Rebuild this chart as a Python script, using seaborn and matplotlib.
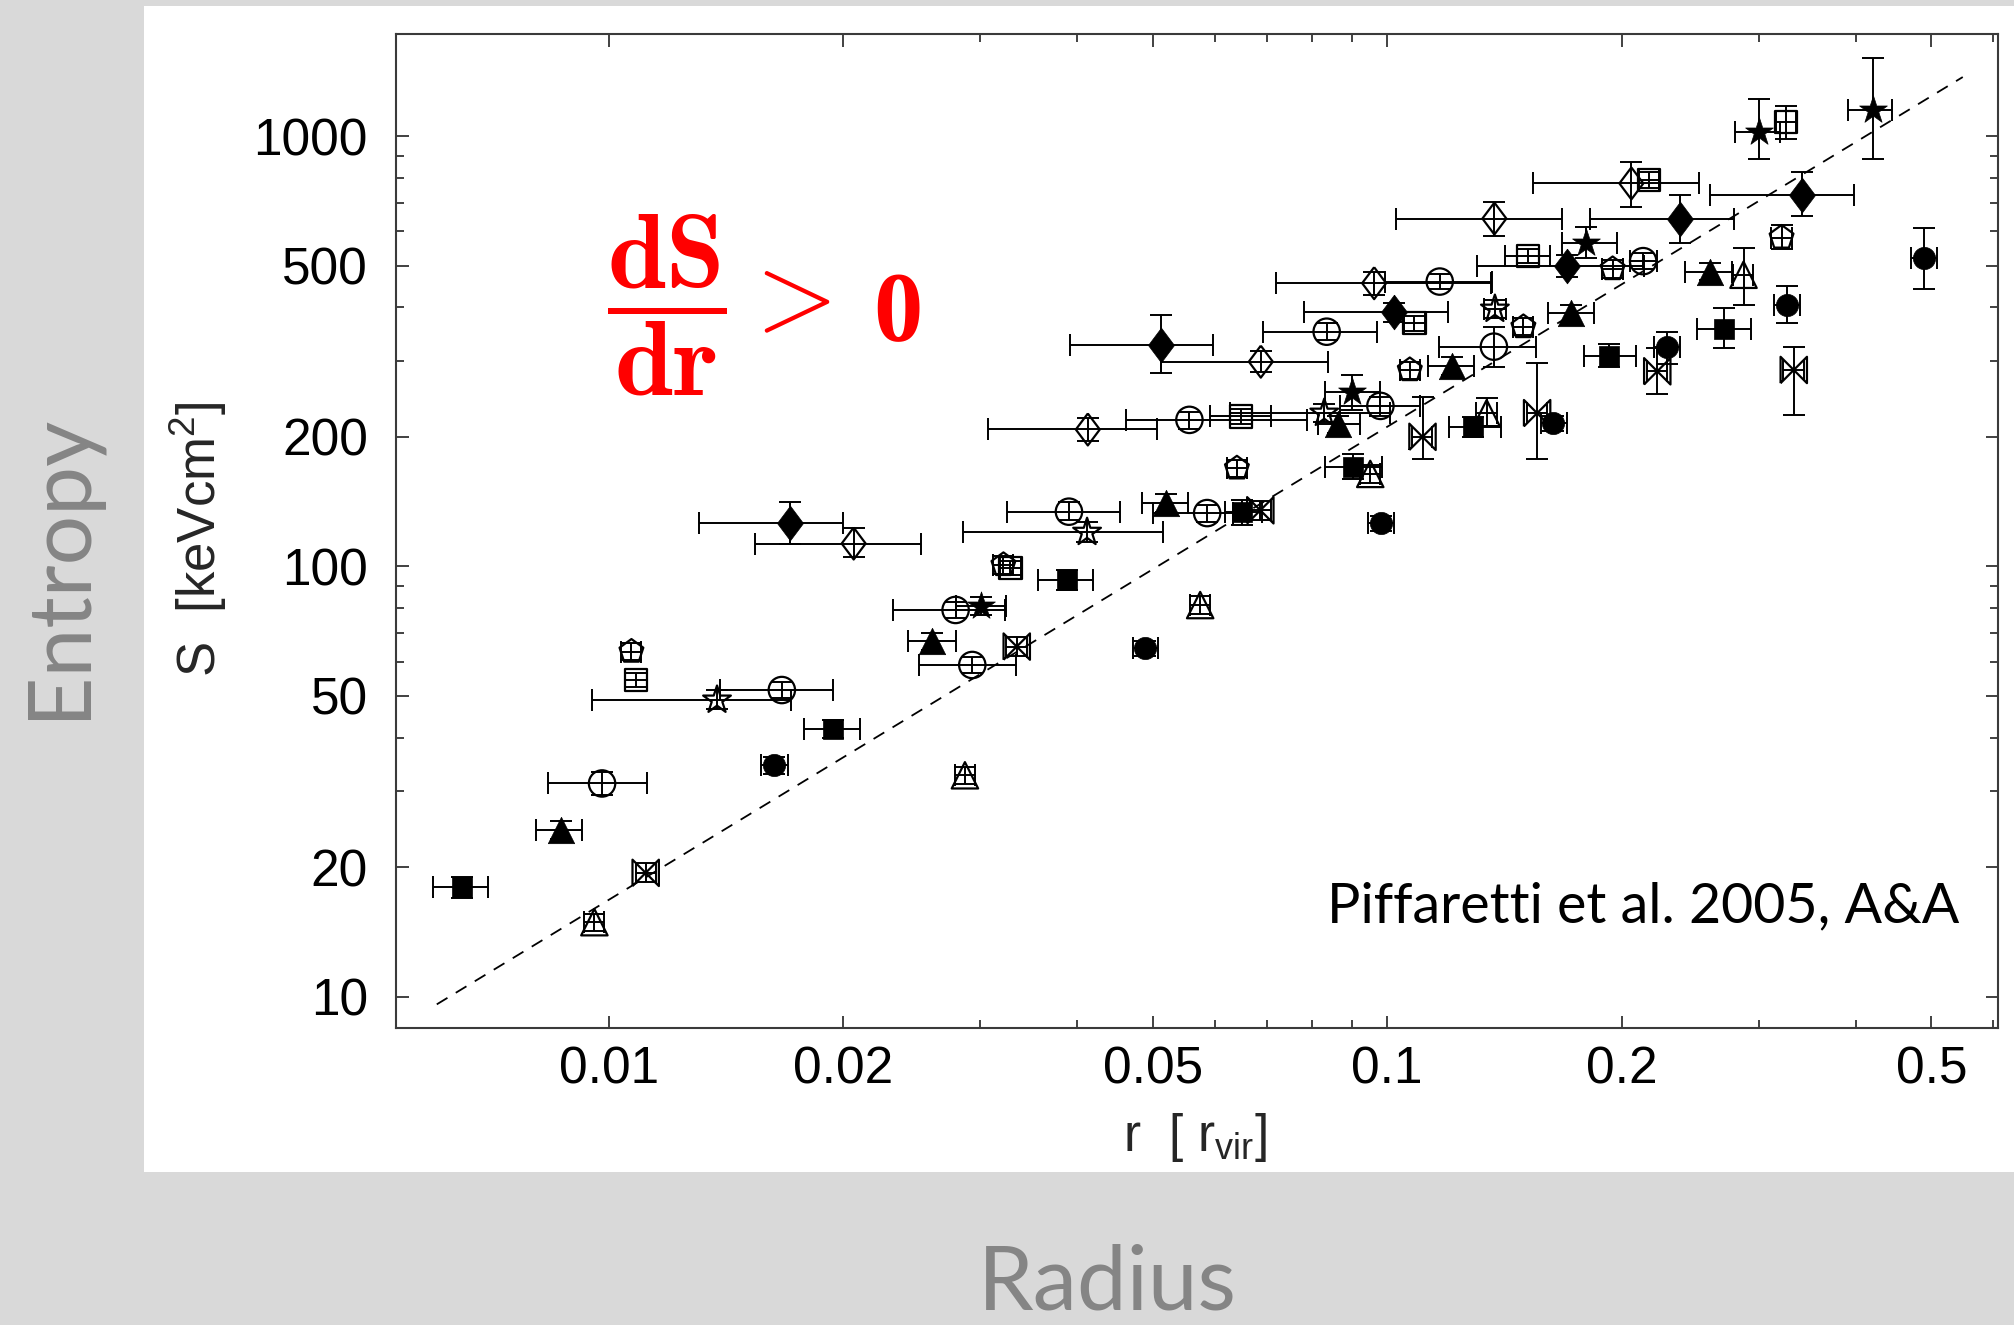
import numpy as np
import matplotlib
matplotlib.use('Agg')
import matplotlib.pyplot as plt
from matplotlib.patches import Rectangle
from matplotlib.ticker import FixedLocator, FixedFormatter, NullFormatter
import seaborn as sns

# --- data (r in r_vir, S in keV cm^2) ---
# filled squares
sq_f_r = [0.00647, 0.0194, 0.0388, 0.0651, 0.0905, 0.129, 0.193, 0.271]
sq_f_S = [18.0, 42.0, 93.0, 134, 170, 211, 308, 356]
sq_f_rlo = [0.00595, 0.0178, 0.0356, 0.0619, 0.0833, 0.120, 0.179, 0.250]
sq_f_rhi = [0.00700, 0.0210, 0.0419, 0.0691, 0.0984, 0.140, 0.209, 0.293]
sq_f_Slo = [17.0, 40.0, 88, 125, 160, 200, 290, 322]
sq_f_Shi = [19.0, 44.0, 98, 143, 182, 222, 328, 399]

# filled circles
ci_f_r = [0.0163, 0.0489, 0.0981, 0.1635, 0.2285, 0.326, 0.489]
ci_f_S = [34.5, 64.5, 126, 215, 323, 404, 520]
ci_f_rlo = [0.0157, 0.0471, 0.0945, 0.1575, 0.220, 0.314, 0.471]
ci_f_rhi = [0.0170, 0.0508, 0.1019, 0.1700, 0.2375, 0.339, 0.508]
ci_f_Slo = [33.0, 62.0, 121, 206, 296, 368, 442]
ci_f_Shi = [36.0, 67.0, 131, 224, 351, 448, 612]

# filled triangles
tr_f_r = [0.00868, 0.0260, 0.0520, 0.0865, 0.1212, 0.1723, 0.2596]
tr_f_S = [24.4, 67.0, 140, 214, 292, 387, 484]
tr_f_rlo = [0.00806, 0.0242, 0.0484, 0.0815, 0.1128, 0.1610, 0.2414]
tr_f_rhi = [0.00924, 0.0279, 0.0554, 0.0923, 0.1293, 0.1845, 0.2772]
tr_f_Slo = [23.2, 64, 134, 204, 279, 370, 462]
tr_f_Shi = [25.6, 70, 147, 224, 306, 405, 507]

# filled diamonds
di_f_r = [0.01708, 0.0512, 0.1021, 0.1701, 0.2381, 0.3406]
di_f_S = [126, 327, 389, 499, 640, 730]
di_f_rlo = [0.01305, 0.0391, 0.0782, 0.1305, 0.1823, 0.2596]
di_f_rhi = [0.01998, 0.0598, 0.1198, 0.2138, 0.2791, 0.3981]
di_f_Slo = [113, 282, 370, 470, 564, 652]
di_f_Shi = [141, 384, 410, 530, 730, 827]

# filled stars
st_f_r = [0.0301, 0.0901, 0.1802, 0.3006, 0.4204]
st_f_S = [81.1, 254, 563, 1021, 1147]
st_f_rlo = [0.0279, 0.0833, 0.1678, 0.2799, 0.3911]
st_f_rhi = [0.0324, 0.0980, 0.1974, 0.3198, 0.4453]
st_f_Slo = [77, 231, 520, 884, 884]
st_f_Shi = [85, 279, 613, 1218, 1516]

# open circles
ci_o_r = [0.00980, 0.01668, 0.02789, 0.0293, 0.0390, 0.0557, 0.0587, 0.0836, 0.0980, 0.1168, 0.1371, 0.2132]
ci_o_S = [31.3, 51.6, 79.2, 59.0, 134, 219, 133, 351, 236, 459, 324, 512]
ci_o_rlo = [0.00834, 0.01389, 0.02318, 0.02503, 0.03243, 0.0462, 0.0500, 0.0693, 0.0870, 0.0994, 0.1166, 0.205]
ci_o_rhi = [0.01118, 0.01941, 0.03228, 0.03335, 0.04538, 0.0789, 0.0634, 0.0971, 0.1102, 0.1364, 0.1554, 0.222]
ci_o_Slo = [29.5, 49.5, 76, 56.5, 128, 209, 127, 335, 224, 440, 291, 490]
ci_o_Shi = [33.2, 53.8, 82.5, 61.5, 141, 229, 139, 368, 248, 478, 359, 535]

# open squares
sq_o_r = [0.01083, 0.0328, 0.0649, 0.1084, 0.1518, 0.2170, 0.3255]
sq_o_S = [54.5, 99.1, 223, 367, 526, 791, 1076]
sq_o_rlo = [0.0105, 0.0318, 0.0592, 0.1051, 0.1418, 0.2105, 0.3157]
sq_o_rhi = [0.0112, 0.0338, 0.0708, 0.1117, 0.1619, 0.2235, 0.3353]
sq_o_Slo = [52.5, 95.5, 214, 353, 506, 758, 985]
sq_o_Shi = [56.5, 103, 232, 382, 547, 825, 1175]

# open pentagons
pe_o_r = [0.01069, 0.03213, 0.0641, 0.1069, 0.1496, 0.1948, 0.3211]
pe_o_S = [63.4, 100.8, 169, 286, 360, 491, 581]
pe_o_rlo = [0.01037, 0.03117, 0.0622, 0.1037, 0.1451, 0.1890, 0.3115]
pe_o_rhi = [0.01101, 0.03309, 0.0660, 0.1101, 0.1541, 0.2006, 0.3307]
pe_o_Slo = [60.5, 96, 161, 273, 344, 469, 545]
pe_o_Shi = [66.5, 105.5, 177, 299, 377, 514, 620]

# open diamonds
di_o_r = [0.02063, 0.04124, 0.0688, 0.0962, 0.1373, 0.2059]
di_o_S = [113, 208, 299, 455, 643, 776]
di_o_rlo = [0.01541, 0.03073, 0.0512, 0.0719, 0.1025, 0.1538]
di_o_rhi = [0.02517, 0.05058, 0.0839, 0.1359, 0.1677, 0.2517]
di_o_Slo = [105, 196, 283, 428, 586, 684]
di_o_Shi = [123, 221, 316, 484, 704, 872]

# open stars
st_o_r = [0.01377, 0.04115, 0.0830, 0.1375]
st_o_S = [48.9, 120, 227, 396]
st_o_rlo = [0.00951, 0.02854, 0.0628, 0.1330]
st_o_rhi = [0.01713, 0.05158, 0.1009, 0.1420]
st_o_Slo = [46.5, 114, 216, 377]
st_o_Shi = [51.5, 127, 238, 416]

# open triangles
tr_o_r = [0.00958, 0.02867, 0.0575, 0.0951, 0.1342, 0.2869]
tr_o_S = [14.9, 32.7, 81.3, 164, 227, 476]
tr_o_rlo = [0.00929, 0.0278, 0.0558, 0.0922, 0.1302, 0.2783]
tr_o_rhi = [0.00987, 0.0295, 0.0592, 0.0980, 0.1382, 0.2955]
tr_o_Slo = [14.2, 31.2, 77.5, 156, 212, 405]
tr_o_Shi = [15.6, 34.2, 85.2, 172, 246, 550]

# open bowties
bt_o_r = [0.01115, 0.03342, 0.0687, 0.1110, 0.1558, 0.2223, 0.3329]
bt_o_S = [19.4, 65.1, 135, 200, 227, 284, 286]
bt_o_rlo = [0.01082, 0.0324, 0.0666, 0.1077, 0.1511, 0.2156, 0.3229]
bt_o_rhi = [0.01148, 0.0344, 0.0708, 0.1143, 0.1605, 0.2290, 0.3429]
bt_o_Slo = [18.5, 62, 128, 178, 178, 252, 225]
bt_o_Shi = [20.4, 68.5, 142, 248, 297, 322, 324]

# dashed reference line, S ~ r^1.1
line_r = [0.00601, 0.5488]
line_S = [9.6, 1371]

x_major = [0.01, 0.02, 0.05, 0.1, 0.2, 0.5]
x_major_labels = ['0.01', '0.02', '0.05', '0.1', '0.2', '0.5']
x_minor = [0.03, 0.04, 0.06, 0.07, 0.08, 0.09, 0.3, 0.4, 0.6]
y_major = [10, 20, 50, 100, 200, 500, 1000]
y_major_labels = ['10', '20', '50', '100', '200', '500', '1000']
y_minor = [30, 40, 60, 70, 80, 90, 300, 400, 600, 700, 800, 900]

diamond = [(0, 1), (0.75, 0), (0, -1), (-0.75, 0), (0, 1)]
bowtie = [(-1, -1), (1, 1), (1, -1), (-1, 1), (-1, -1)]

groups = [
    (sq_f_r, sq_f_S, sq_f_rlo, sq_f_rhi, sq_f_Slo, sq_f_Shi, 's', 14.5, True),
    (ci_f_r, ci_f_S, ci_f_rlo, ci_f_rhi, ci_f_Slo, ci_f_Shi, 'o', 16, True),
    (tr_f_r, tr_f_S, tr_f_rlo, tr_f_rhi, tr_f_Slo, tr_f_Shi, '^', 19, True),
    (di_f_r, di_f_S, di_f_rlo, di_f_rhi, di_f_Slo, di_f_Shi, diamond, 25, True),
    (st_f_r, st_f_S, st_f_rlo, st_f_rhi, st_f_Slo, st_f_Shi, '*', 21, True),
    (ci_o_r, ci_o_S, ci_o_rlo, ci_o_rhi, ci_o_Slo, ci_o_Shi, 'o', 19, False),
    (sq_o_r, sq_o_S, sq_o_rlo, sq_o_rhi, sq_o_Slo, sq_o_Shi, 's', 16, False),
    (pe_o_r, pe_o_S, pe_o_rlo, pe_o_rhi, pe_o_Slo, pe_o_Shi, 'p', 18, False),
    (di_o_r, di_o_S, di_o_rlo, di_o_rhi, di_o_Slo, di_o_Shi, diamond, 23, False),
    (st_o_r, st_o_S, st_o_rlo, st_o_rhi, st_o_Slo, st_o_Shi, '*', 21, False),
    (tr_o_r, tr_o_S, tr_o_rlo, tr_o_rhi, tr_o_Slo, tr_o_Shi, '^', 19, False),
    (bt_o_r, bt_o_S, bt_o_rlo, bt_o_rhi, bt_o_Slo, bt_o_Shi, bowtie, 19, False),
]

sns.set_style('ticks')
plt.rcParams['font.family'] = ['Liberation Sans', 'DejaVu Sans']
plt.rcParams['mathtext.fontset'] = 'custom'
plt.rcParams['mathtext.rm'] = 'Liberation Sans'
plt.rcParams['mathtext.it'] = 'Liberation Sans:italic'
plt.rcParams['mathtext.bf'] = 'Liberation Sans:bold'
plt.rcParams['lines.scale_dashes'] = False

fig = plt.figure(figsize=(20.14, 13.25), dpi=100)
fig.patch.set_facecolor('#d9d9d9')
fig.add_artist(Rectangle((144 / 2014, 1 - 1172 / 1325), 1, 1166 / 1325,
                         transform=fig.transFigure, facecolor='white',
                         edgecolor='none', zorder=-5))

ax = fig.add_axes([0.1964, 0.2245, 0.7959, 0.7495])
ax.set_xscale('log')
ax.set_yscale('log')

sns.lineplot(x=line_r, y=line_S, ax=ax, color='black', linewidth=1.3,
             linestyle=(0, (9, 7)), zorder=1)

for r, S, rlo, rhi, Slo, Shi, mk, ms, filled in groups:
    r = np.array(r); S = np.array(S)
    xerr = [r - np.array(rlo), np.array(rhi) - r]
    yerr = [S - np.array(Slo), np.array(Shi) - S]
    ax.errorbar(r, S, xerr=xerr, yerr=yerr, fmt='none', ecolor='black',
                elinewidth=1.4, capsize=8, capthick=1.4, zorder=2)
    if filled:
        sns.scatterplot(x=r, y=S, ax=ax, marker=mk, s=ms ** 2, color='black',
                        edgecolor='black', linewidth=0.5, zorder=3)
    else:
        sns.scatterplot(x=r, y=S, ax=ax, marker=mk, s=ms ** 2, color='black',
                        facecolor='none', edgecolor='black', linewidth=1.6,
                        zorder=3)

ax.set_xlim(0.00532, 0.610)
ax.set_ylim(8.48, 1722)

ax.xaxis.set_major_locator(FixedLocator(x_major))
ax.xaxis.set_major_formatter(FixedFormatter(x_major_labels))
ax.xaxis.set_minor_locator(FixedLocator(x_minor))
ax.xaxis.set_minor_formatter(NullFormatter())
ax.yaxis.set_major_locator(FixedLocator(y_major))
ax.yaxis.set_major_formatter(FixedFormatter(y_major_labels))
ax.yaxis.set_minor_locator(FixedLocator(y_minor))
ax.yaxis.set_minor_formatter(NullFormatter())

ax.tick_params(which='both', direction='in', top=True, right=True,
               width=1.3, color='#333333', labelsize=37, labelcolor='black')
ax.tick_params(which='major', length=9)
ax.tick_params(which='minor', length=6)
ax.tick_params(axis='x', which='major', pad=13)
ax.tick_params(axis='y', which='major', pad=20)
for sp in ax.spines.values():
    sp.set_linewidth(1.5)
    sp.set_color('#3a3a3a')

ax.set_ylabel('S  [keVcm$^2$]', fontsize=38)
ax.yaxis.set_label_coords(-0.1227, 0.4915)
ax.yaxis.label.set_va('center')
ax.set_xlabel(r'r  [ r$_{\rm vir}$]', fontsize=37)
ax.xaxis.set_label_coords(0.4985, -0.1103)
ax.xaxis.label.set_va('center')

ax.text(0.9754, 0.1062, 'Piffaretti et al. 2005, A&A', transform=ax.transAxes,
        ha='right', va='baseline', fontsize=40, color='black',
        family=['Lato', 'DejaVu Sans'])

# red annotation: fraction part in CM math, bold zero as serif text
fig.text(0.3014, 0.770, r'$\dfrac{\mathbf{dS}}{\mathbf{dr}} >$',
         color='#ff0000', fontsize=76, math_fontfamily='cm',
         ha='left', va='center')
fig.text(0.4335, 0.7434, '0', color='#ff0000', fontsize=71,
         family=['Liberation Serif', 'DejaVu Serif'], fontweight='bold',
         ha='left', va='baseline')

fig.text(0.0293, 0.573, 'Entropy', rotation=90, ha='center', va='center',
         fontsize=63, color='#858585', family=['Lato', 'DejaVu Sans'])
fig.text(0.550, 0.012, 'Radius', ha='center', va='baseline',
         fontsize=64, color='#858585', family=['Lato', 'DejaVu Sans'])

fig.savefig('out.png', dpi=100)
